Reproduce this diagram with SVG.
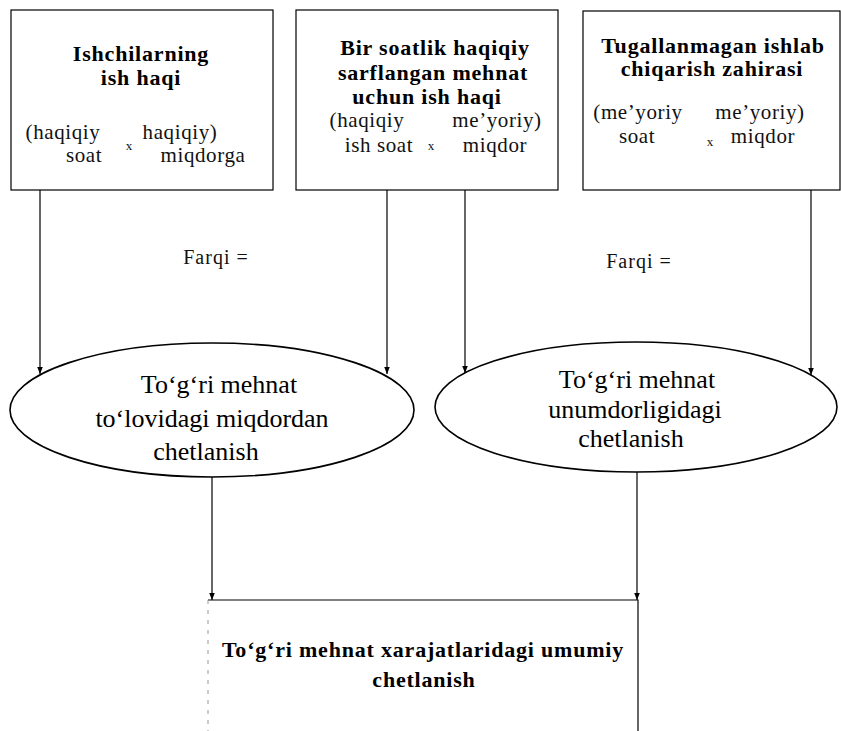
<svg xmlns="http://www.w3.org/2000/svg" width="841" height="731" viewBox="0 0 841 731">
<defs>
<style>
text{font-family:'Liberation Serif','DejaVu Serif',serif}
.box{fill:#fff;stroke:#000;stroke-width:1.2}
.ell{fill:#fff;stroke:#000;stroke-width:1.6}
.b{font-weight:bold;font-size:22px;letter-spacing:0.8px;text-anchor:middle;fill:#000}
.r{font-size:21px;letter-spacing:0.6px;text-anchor:middle;fill:#111}
.x{font-size:13px;text-anchor:middle;fill:#111}
.e{font-size:26px;text-anchor:middle;fill:#000}
.f{font-size:20px;letter-spacing:1px;text-anchor:middle;fill:#111}
.c{fill:none;stroke:#000;stroke-width:1.2}
</style>
<marker id="ah" viewBox="0 0 10 10" refX="10" refY="5" markerWidth="7" markerHeight="7" orient="auto" markerUnits="userSpaceOnUse">
<path d="M0,1 L10,5 L0,9 z" fill="#000"/>
</marker>
</defs>
<rect width="841" height="731" fill="#fff"/>

<g id="connectors">
<line class="c" x1="40" y1="190" x2="40" y2="374" marker-end="url(#ah)"/>
<line class="c" x1="387" y1="190" x2="387" y2="374" marker-end="url(#ah)"/>
<line class="c" x1="465" y1="190" x2="465" y2="373" marker-end="url(#ah)"/>
<line class="c" x1="811" y1="190" x2="811" y2="375" marker-end="url(#ah)"/>
<line class="c" x1="212" y1="477" x2="212" y2="600" marker-end="url(#ah)"/>
<line class="c" x1="637" y1="472" x2="637" y2="600" marker-end="url(#ah)"/>
<text class="f" x="216" y="264">Farqi =</text>
<text class="f" x="639" y="268">Farqi =</text>
</g>

<g id="box1">
<rect class="box" x="11" y="10" width="262" height="180"/>
<text class="b" x="141" y="61">Ishchilarning</text>
<text class="b" x="141" y="85">ish haqi</text>
<text class="r" x="63" y="139">(haqiqiy</text>
<text class="r" x="180" y="139">haqiqiy)</text>
<text class="x" x="129" y="150">x</text>
<text class="r" x="84" y="162">soat</text>
<text class="r" x="203" y="162">miqdorga</text>
</g>

<g id="box2">
<rect class="box" x="296" y="10" width="262" height="180"/>
<text class="b" x="435" y="55">Bir soatlik haqiqiy</text>
<text class="b" x="433" y="80">sarflangan mehnat</text>
<text class="b" x="427" y="104">uchun ish haqi</text>
<text class="r" x="367" y="127">(haqiqiy</text>
<text class="r" x="497" y="127">me’yoriy)</text>
<text class="x" x="431" y="150">x</text>
<text class="r" x="379" y="152">ish soat</text>
<text class="r" x="495" y="152">miqdor</text>
</g>

<g id="box3">
<rect class="box" x="583" y="11" width="257" height="179"/>
<text class="b" x="713" y="53">Tugallanmagan ishlab</text>
<text class="b" x="712" y="76">chiqarish zahirasi</text>
<text class="r" x="638" y="119">(me’yoriy</text>
<text class="r" x="760" y="119">me’yoriy)</text>
<text class="x" x="710" y="146">x</text>
<text class="r" x="637" y="143">soat</text>
<text class="r" x="763" y="143">miqdor</text>
</g>

<g id="ellipse1">
<ellipse class="ell" cx="212" cy="410" rx="202" ry="67"/>
<text class="e" x="219" y="393">To‘g‘ri mehnat</text>
<text class="e" x="212" y="427">to‘lovidagi miqdordan</text>
<text class="e" x="206" y="460">chetlanish</text>
</g>

<g id="ellipse2">
<ellipse class="ell" cx="636" cy="407" rx="201" ry="65"/>
<text class="e" x="637" y="388" font-size="25">To‘g‘ri mehnat</text>
<text class="e" x="635" y="418" font-size="25">unumdorligidagi</text>
<text class="e" x="631" y="447" font-size="25">chetlanish</text>
</g>

<g id="result">
<path class="c" d="M208,600 H638 V740"/>
<line x1="208" y1="600" x2="208" y2="740" stroke="#999" stroke-width="1" stroke-dasharray="4,6"/>
<text class="b" x="423" y="657" font-size="24" letter-spacing="1">To‘g‘ri mehnat xarajatlaridagi umumiy</text>
<text class="b" x="424" y="687" font-size="24" letter-spacing="1">chetlanish</text>
</g>
</svg>
